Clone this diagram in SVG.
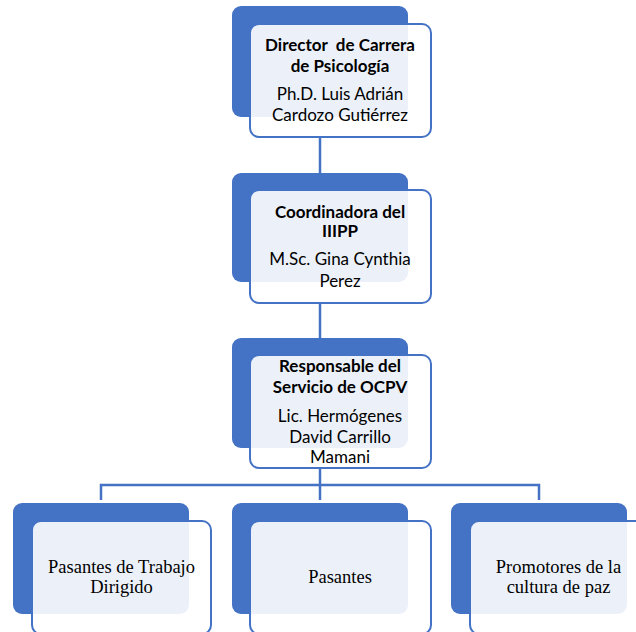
<svg xmlns="http://www.w3.org/2000/svg" width="636" height="632" viewBox="0 0 636 632">
<style>
.back{fill:#4472C4;}
.front{fill:#FFFFFF;fill-opacity:0.9;stroke:#4472C4;stroke-width:2;}
.conn{fill:none;stroke:#4472C4;stroke-width:2.5;}
.b{font-family:Lato,"Liberation Sans",sans-serif;font-weight:bold;font-size:17px;fill:#000;text-anchor:middle;white-space:pre;}
.n{font-family:Lato,"Liberation Sans",sans-serif;font-size:17px;fill:#000;text-anchor:middle;}
.s{font-family:"Liberation Serif","Times New Roman",serif;font-size:18.5px;fill:#000;text-anchor:middle;}
</style>
<rect width="636" height="632" fill="#FFFFFF"/>
<g id="connectors">
<path class="conn" d="M320 137V174"/>
<path class="conn" d="M320 303V338"/>
<path class="conn" d="M320 468V500"/>
<path class="conn" d="M101 500V485H539V500"/>
</g>
<g id="node-director">
<rect class="back" x="232" y="6" width="176" height="111" rx="9"/>
<rect class="front" x="250" y="24" width="181" height="113" rx="9"/>
<text class="b" x="340" y="51" xml:space="preserve">Director  de Carrera</text>
<text class="b" x="340" y="72">de Psicología</text>
<text class="n" x="340" y="100">Ph.D. Luis Adrián</text>
<text class="n" x="340" y="121">Cardozo Gutiérrez</text>
</g>
<g id="node-coordinadora">
<rect class="back" x="232" y="173" width="176" height="109" rx="9"/>
<rect class="front" x="250" y="190" width="181" height="113" rx="9"/>
<text class="b" x="340" y="218">Coordinadora del</text>
<text class="b" x="340" y="237">IIIPP</text>
<text class="n" x="340" y="265">M.Sc. Gina Cynthia</text>
<text class="n" x="340" y="287">Perez</text>
</g>
<g id="node-responsable">
<rect class="back" x="232" y="338" width="176" height="110" rx="9"/>
<rect class="front" x="250" y="355" width="181" height="113" rx="9"/>
<text class="b" x="340" y="372">Responsable del</text>
<text class="b" x="340" y="393">Servicio de OCPV</text>
<text class="n" x="340" y="422">Lic. Hermógenes</text>
<text class="n" x="340" y="443">David Carrillo</text>
<text class="n" x="340" y="463">Mamani</text>
</g>
<g id="node-pasantes-td">
<rect class="back" x="13" y="503" width="176" height="111" rx="9"/>
<rect class="front" x="32" y="521" width="179" height="113" rx="9"/>
<text class="s" x="121.5" y="573">Pasantes de Trabajo</text>
<text class="s" x="121.5" y="593">Dirigido</text>
</g>
<g id="node-pasantes">
<rect class="back" x="232" y="503" width="176" height="111" rx="9"/>
<rect class="front" x="250" y="521" width="181" height="113" rx="9"/>
<text class="s" x="340" y="583">Pasantes</text>
</g>
<g id="node-promotores">
<rect class="back" x="451" y="503" width="176" height="111" rx="9"/>
<rect class="front" x="470" y="521" width="177" height="113" rx="9"/>
<text class="s" x="558.5" y="573">Promotores de la</text>
<text class="s" x="558.5" y="593">cultura de paz</text>
</g>
</svg>
